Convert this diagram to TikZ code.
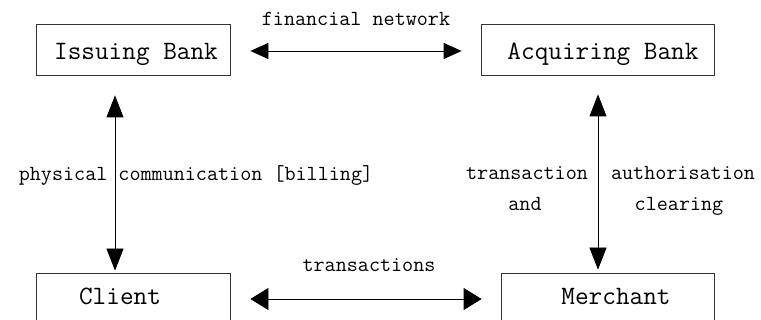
\documentclass[tikz,border=0pt]{standalone}
\usetikzlibrary{arrows.meta}
\begin{document}
\begin{tikzpicture}[x=1pt,y=-1pt,
  box/.style={draw=black!80,line width=0.8pt,minimum height=51pt,inner sep=0pt},
  boxtext/.style={font=\ttfamily\fontsize{26.5}{30}\selectfont,anchor=base,inner sep=0pt},
  lbl/.style={font=\ttfamily\fontsize{21.5}{25}\selectfont,anchor=base,inner sep=0pt},
  conn/.style={line width=0.8pt},
  htipA/.style={{Triangle[length=18pt,width=16pt]}-{Triangle[length=18pt,width=16pt]}},
  htipB/.style={{Triangle[length=18pt,width=22pt]}-{Triangle[length=18pt,width=22pt]}},
  vtip/.style={{Triangle[length=22pt,width=17pt]}-{Triangle[length=22pt,width=17pt]}}]
  \clip (0,0) rectangle (761,320);
  \fill[white] (0,0) rectangle (761,320);

  % boxes
  \node[box,minimum width=194pt] (ib) at (133,49.5) {};
  \node[box,minimum width=233pt] (ab) at (597.5,49.5) {};
  \node[box,minimum width=194pt] (cl) at (133,298.5) {};
  \node[box,minimum width=213pt] (me) at (607.5,298.5) {};

  \node[boxtext] (ibt) at (136,60) {Issuing Bank};
  \node[boxtext] (abt) at (603,60) {Acquiring Bank};
  \node[boxtext] (clt) at (120,305) {Client};
  \node[boxtext] (met) at (616,305) {Merchant};

  % guide coordinates for the connector lines
  \coordinate (ty) at (0,51);
  \coordinate (by) at (0,299);
  \coordinate (lx) at (115,0);
  \coordinate (rx) at (598,0);

  % connectors
  \draw[conn,htipA,shorten <=20pt,shorten >=19pt] (ib.east |- ty) -- (ab.west |- ty);
  \draw[conn,htipB,shorten <=20pt,shorten >=19pt] (cl.east |- by) -- (me.west |- by);
  \draw[conn,vtip,shorten <=20pt,shorten >=2pt] (ib.south -| lx) -- (cl.north -| lx);
  \draw[conn,vtip,shorten <=19pt,shorten >=3pt] (ab.south -| rx) -- (me.north -| rx);

  % labels
  \node[lbl] (fn) at (356,26) {financial network};
  \node[lbl] (pc) at (196,181) {physical communication [billing]};
  \node[lbl] (tx) at (369,272) {transactions};
  \node[lbl] (ta1) at (527,180) {transaction};
  \node[lbl] (ta2) at (525,211) {and};
  \node[lbl] (au1) at (683,180) {authorisation};
  \node[lbl] (au2) at (679,211) {clearing};
\end{tikzpicture}
\end{document}
